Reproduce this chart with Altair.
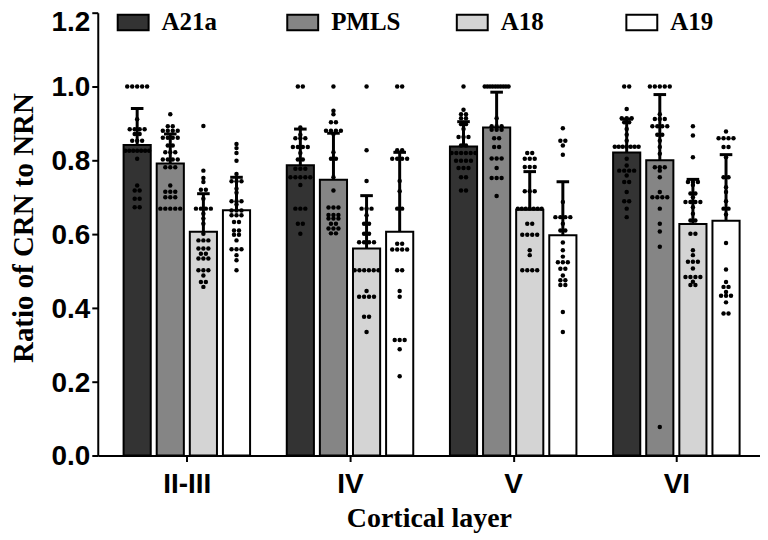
import altair as alt
import pandas as pd

layers = ["II-III", "IV", "V", "VI"]
regions = ["A21a", "PMLS", "A18", "A19"]
fills = ["#333333", "#858585", "#d4d4d4", "#ffffff"]

# ---- individual data points (ratio of CRN to NRN) ----
ii_iii_a21a = [1.0, 1.0, 1.0, 1.0, 1.0, 0.911, 0.884, 0.884, 0.884, 0.884, 0.871, 0.871,
               0.853, 0.853, 0.853, 0.826, 0.826, 0.826, 0.826, 0.826, 0.826, 0.826,
               0.804, 0.732, 0.718, 0.718, 0.696, 0.696, 0.673, 0.673]
ii_iii_pmls = [0.925, 0.892, 0.892, 0.880, 0.880, 0.880, 0.880, 0.861, 0.861, 0.861, 0.861,
               0.840, 0.840, 0.822, 0.822, 0.822, 0.802, 0.802, 0.802, 0.802,
               0.781, 0.781, 0.781, 0.732, 0.715, 0.715, 0.715, 0.700, 0.700, 0.700,
               0.669, 0.669, 0.669, 0.669, 0.669]
ii_iii_a18 = [0.893, 0.772, 0.752, 0.741, 0.720, 0.720, 0.696, 0.669, 0.669, 0.669, 0.669,
              0.655, 0.642, 0.628, 0.601, 0.583, 0.583, 0.583, 0.561, 0.561, 0.561,
              0.547, 0.547, 0.534, 0.534, 0.534, 0.502, 0.502, 0.502, 0.488, 0.470, 0.470, 0.457]
ii_iii_a19 = [0.844, 0.833, 0.820, 0.799, 0.763, 0.743, 0.743, 0.743, 0.723, 0.712,
              0.689, 0.689, 0.689, 0.680, 0.664, 0.664, 0.664, 0.651, 0.651, 0.651,
              0.633, 0.633, 0.610, 0.610, 0.598, 0.598, 0.583, 0.559, 0.559, 0.559,
              0.543, 0.529, 0.502]

iv_a21a = [1.0, 1.0, 0.889, 0.869, 0.860, 0.860, 0.860, 0.836, 0.836, 0.836, 0.836, 0.820,
           0.802, 0.802, 0.777, 0.777, 0.777, 0.754, 0.754, 0.754, 0.754, 0.754, 0.733,
           0.669, 0.669, 0.669, 0.628, 0.628, 0.601]
iv_pmls = [1.0, 0.934, 0.925, 0.903, 0.903, 0.880, 0.880, 0.880, 0.880, 0.871, 0.822,
           0.804, 0.804, 0.754, 0.718, 0.672, 0.672, 0.672, 0.652, 0.652, 0.652,
           0.642, 0.642, 0.642, 0.628, 0.628, 0.615, 0.615, 0.615, 0.602, 0.602]
iv_a18 = [1.0, 0.827, 0.744, 0.669, 0.669, 0.669, 0.651, 0.628, 0.628, 0.601, 0.601,
          0.578, 0.578, 0.578, 0.578, 0.502, 0.502, 0.502, 0.502, 0.502, 0.502,
          0.446, 0.430, 0.430, 0.430, 0.430, 0.376, 0.376, 0.335]
iv_a19 = [1.0, 1.0, 0.827, 0.827, 0.804, 0.804, 0.804, 0.804, 0.744, 0.716, 0.669, 0.669,
          0.574, 0.574, 0.558, 0.558, 0.558, 0.558, 0.502, 0.502, 0.446, 0.430,
          0.313, 0.313, 0.313, 0.288, 0.215]

v_a21a = [1.0, 0.937, 0.925, 0.925, 0.914, 0.914, 0.898, 0.898, 0.885, 0.863, 0.863, 0.863,
          0.840, 0.840, 0.820, 0.820, 0.820, 0.820, 0.820, 0.820, 0.799, 0.799, 0.799, 0.799,
          0.779, 0.779, 0.779, 0.754, 0.754, 0.718, 0.718]
v_pmls = [1.0, 1.0, 1.0, 1.0, 1.0, 1.0, 1.0, 1.0, 1.0, 1.0, 0.914, 0.892, 0.892, 0.892,
          0.883, 0.883, 0.883, 0.860, 0.860, 0.836, 0.836, 0.805, 0.805, 0.805, 0.779,
          0.752, 0.752, 0.752, 0.703]
v_a18 = [0.820, 0.820, 0.804, 0.804, 0.804, 0.782, 0.782, 0.782, 0.716, 0.716, 0.716,
         0.669, 0.669, 0.669, 0.669, 0.669, 0.669, 0.669, 0.628, 0.628,
         0.598, 0.598, 0.598, 0.598, 0.556, 0.543, 0.502, 0.502, 0.502, 0.502]
v_a19 = [0.887, 0.853, 0.853, 0.840, 0.815, 0.687, 0.646, 0.646, 0.646, 0.646, 0.628,
         0.610, 0.610, 0.577, 0.556, 0.539, 0.524, 0.524, 0.524, 0.506, 0.506, 0.488,
         0.475, 0.475, 0.462, 0.462, 0.389, 0.335]

vi_a21a = [1.0, 1.0, 0.939, 0.914, 0.914, 0.914, 0.903, 0.903, 0.885, 0.869, 0.853,
           0.837, 0.837, 0.837, 0.837, 0.837, 0.837, 0.837, 0.804, 0.786,
           0.772, 0.772, 0.772, 0.772, 0.759, 0.741, 0.741, 0.714, 0.689, 0.689, 0.669, 0.646]
vi_pmls = [1.0, 1.0, 1.0, 1.0, 1.0, 0.925, 0.912, 0.912, 0.912, 0.892, 0.892, 0.892, 0.892,
           0.869, 0.869, 0.853, 0.836, 0.818, 0.781, 0.781, 0.781, 0.772, 0.754, 0.714,
           0.700, 0.700, 0.700, 0.700, 0.669, 0.628, 0.607, 0.566, 0.077]
vi_a18 = [0.892, 0.867, 0.808, 0.741, 0.741, 0.741, 0.733, 0.710, 0.710, 0.700,
          0.687, 0.687, 0.687, 0.687, 0.673, 0.655, 0.637, 0.637, 0.601, 0.601,
          0.556, 0.543, 0.525, 0.525, 0.525, 0.507, 0.484, 0.484, 0.484, 0.484,
          0.471, 0.462, 0.462]
vi_a19 = [0.878, 0.860, 0.860, 0.860, 0.860, 0.836, 0.836, 0.808, 0.754, 0.754, 0.727,
          0.714, 0.689, 0.669, 0.669, 0.653, 0.576, 0.504, 0.470, 0.457, 0.457, 0.443,
          0.433, 0.433, 0.433, 0.415, 0.385, 0.385]

series = {
    ("II-III", "A21a"): ii_iii_a21a, ("II-III", "PMLS"): ii_iii_pmls,
    ("II-III", "A18"): ii_iii_a18, ("II-III", "A19"): ii_iii_a19,
    ("IV", "A21a"): iv_a21a, ("IV", "PMLS"): iv_pmls, ("IV", "A18"): iv_a18, ("IV", "A19"): iv_a19,
    ("V", "A21a"): v_a21a, ("V", "PMLS"): v_pmls, ("V", "A18"): v_a18, ("V", "A19"): v_a19,
    ("VI", "A21a"): vi_a21a, ("VI", "PMLS"): vi_pmls, ("VI", "A18"): vi_a18, ("VI", "A19"): vi_a19,
}

rows = []
for (lay, reg), vals in series.items():
    for v in vals:
        rows.append({"layer": lay, "region": reg, "gi": layers.index(lay),
                     "ri": regions.index(reg), "value": v})
df = pd.DataFrame(rows)

# ---- layout constants (x in "bar slot" units) ----
LEFT, GROUP, HALF, CAP, PITCH, SPAN = 2.69, 4.928, 0.41, 0.19, 0.15, 0.72
center_expr = f"{LEFT} + {GROUP}*datum.gi + datum.ri - 1.5"

xscale = alt.Scale(domain=[0, 20], nice=False, zero=False)
yscale = alt.Scale(domain=[0, 1.2], nice=False)

label_expr = "[" + ",".join(f"'{l}'" for l in layers) + f"][round((datum.value - {LEFT})/{GROUP})]"

xaxis = alt.Axis(
    values=[LEFT + GROUP * i for i in range(len(layers))], labelExpr=label_expr,
    title="Cortical layer", titleFont="Liberation Serif", titleFontSize=28,
    titleFontWeight="bold", titleColor="black", titleX=332, titleY=71,
    titleAlign="center", titleBaseline="alphabetic",
    labelFont="Liberation Sans", labelFontSize=28, labelFontWeight="bold",
    labelColor="black", labelPadding=9, labelFlush=False, labelOverlap=False,
    tickSize=6, tickWidth=2, tickColor="black", domainColor="black", domainWidth=2,
    grid=False,
)
yaxis = alt.Axis(
    values=[0, 0.2, 0.4, 0.6, 0.8, 1.0, 1.2], format=".1f",
    title="Ratio of CRN to NRN", titleFont="Liberation Serif", titleFontSize=29,
    titleFontWeight="bold", titleColor="black", titleX=-65, titleY=215.5,
    titleAngle=270, titleAlign="center", titleBaseline="alphabetic",
    labelFont="Liberation Sans", labelFontSize=28, labelFontWeight="bold",
    labelColor="black", labelPadding=2, labelFlush=False, labelOverlap=False,
    labelOffset={"condition": {"test": "datum.value > 1.15", "value": 10}, "value": 1.5},
    tickSize=6, tickWidth=2, tickColor="black", domainColor="black", domainWidth=2,
    grid=False,
)

base = alt.Chart(df)

agg = base.transform_aggregate(
    mean="mean(value)", sd="stdev(value)", groupby=["layer", "region", "gi", "ri"]
).transform_calculate(
    xc=center_expr,
    x0=f"datum.xc - {HALF}",
    x1=f"datum.xc + {HALF}",
    c0=f"datum.xc - {CAP}",
    c1=f"datum.xc + {CAP}",
    upper="datum.mean + datum.sd",
)

bars = agg.mark_bar(stroke="black", strokeWidth=2).encode(
    x=alt.X("x0:Q", scale=xscale, axis=xaxis),
    x2="x1:Q",
    y=alt.Y("mean:Q", scale=yscale, axis=yaxis),
    y2=alt.datum(0),
    color=alt.Color(
        "region:N",
        scale=alt.Scale(domain=regions, range=fills),
        legend=alt.Legend(
            title=None, orient="none", legendX=19, legendY=-7,
            direction="horizontal", columns=4, gridAlign="all", columnPadding=52,
            symbolType="M-1,-0.5H1V0.5H-1Z", symbolSize=961,
            symbolStrokeColor="black", symbolStrokeWidth=2, symbolOpacity=1,
            labelFont="Liberation Serif", labelFontWeight="bold", labelFontSize=25,
            labelColor="black", labelOffset=12, padding=0,
        ),
    ),
)

err = agg.mark_rule(color="black", strokeWidth=3).encode(
    x=alt.X("xc:Q", scale=xscale, axis=xaxis),
    y=alt.Y("mean:Q", scale=yscale, axis=yaxis),
    y2="upper:Q",
)

cap = agg.mark_rule(color="black", strokeWidth=3).encode(
    x=alt.X("c0:Q", scale=xscale, axis=xaxis),
    x2="c1:Q",
    y=alt.Y("upper:Q", scale=yscale, axis=yaxis),
)

dots = base.transform_window(
    rank="row_number()", groupby=["layer", "region", "value"]
).transform_joinaggregate(
    n="count()", groupby=["layer", "region", "value"]
).transform_calculate(
    pitch=f"min({PITCH}, {SPAN}/max(datum.n - 1, 1))",
    xpos=f"{center_expr} + (datum.rank - 1 - (datum.n - 1)/2)*datum.pitch",
).mark_circle(size=20, color="black", opacity=1).encode(
    x=alt.X("xpos:Q", scale=xscale, axis=xaxis),
    y=alt.Y("value:Q", scale=yscale, axis=yaxis),
)

chart = alt.layer(bars, err, cap, dots).properties(
    width=664, height=444,
    autosize=alt.AutoSizeParams(type="none"),
    padding={"left": 90, "top": 4, "right": 0, "bottom": 84},
).configure_view(stroke=None)

chart.save("out.html", embed_options={"renderer": "svg", "actions": False})
